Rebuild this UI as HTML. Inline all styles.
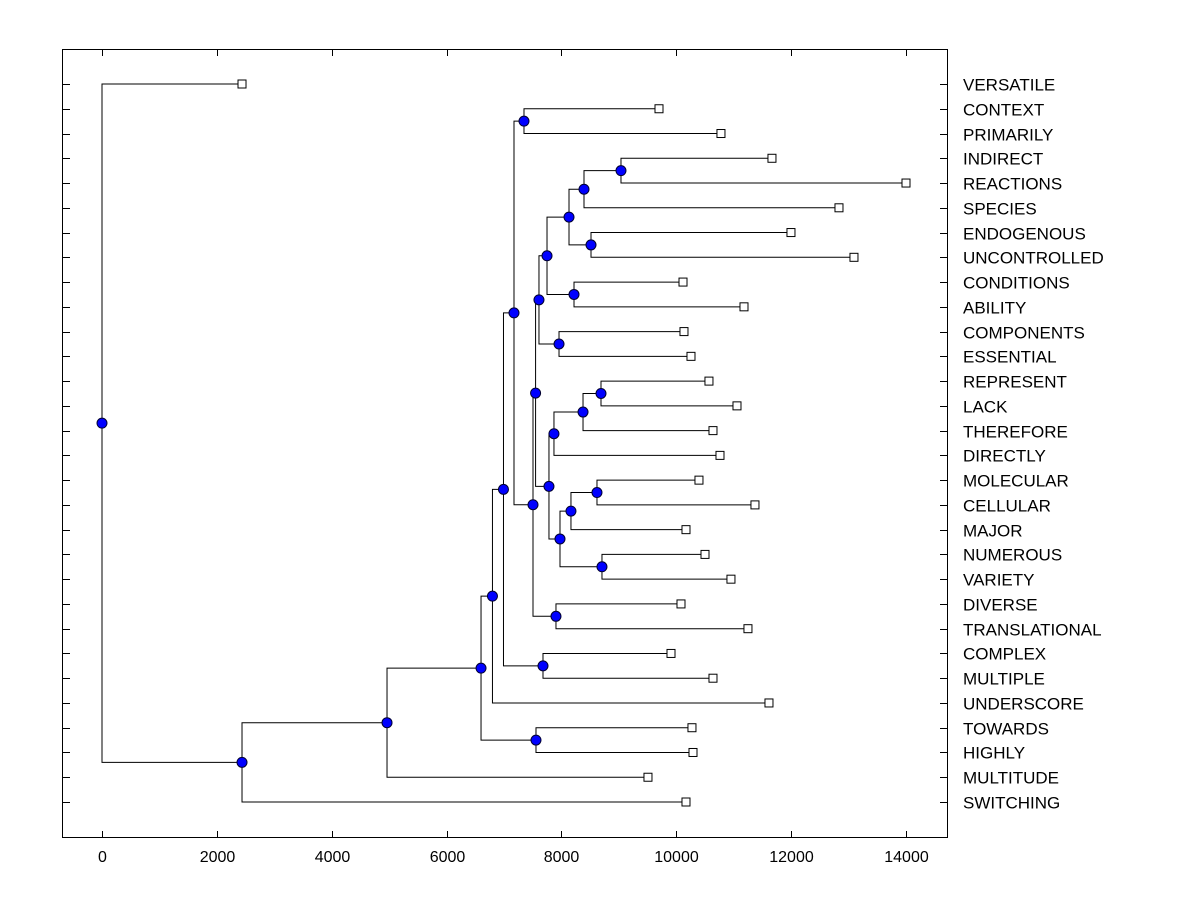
<!DOCTYPE html>
<html><head><meta charset="utf-8"><style>
html,body{margin:0;padding:0;background:#fff;}
svg{display:block;font-family:"Liberation Sans",Arial,sans-serif;}
</style></head><body>
<svg id="chart" width="1200" height="900" viewBox="0 0 1200 900">
<rect x="62.5" y="49.5" width="885" height="788" fill="#fff" stroke="#000" stroke-width="1"/>
<g id="links"></g>
<g id="ticks"></g>
<g id="marks"></g>
</svg>
<script>
const leafNames = ["VERSATILE","CONTEXT","PRIMARILY","INDIRECT","REACTIONS","SPECIES","ENDOGENOUS","UNCONTROLLED","CONDITIONS","ABILITY","COMPONENTS","ESSENTIAL","REPRESENT","LACK","THEREFORE","DIRECTLY","MOLECULAR","CELLULAR","MAJOR","NUMEROUS","VARIETY","DIVERSE","TRANSLATIONAL","COMPLEX","MULTIPLE","UNDERSCORE","TOWARDS","HIGHLY","MULTITUDE","SWITCHING"];
const leafValues = [2438,9699,10778,11666,14000,12833,11997,13094,10117,11179,10134,10256,10569,11057,10639,10761,10395,11370,10169,10500,10952,10082,11248,9908,10639,11614,10273,10291,9507,10169];
// internal nodes: [name, value, childA, childB]; leaf children as "L<index>"
const nodeNames = ["cp","ir","irs","eu","A","ca","B","ce","C","rl","rlt","dir","mc","mcm","nv","E","F","H","dt","G","D","cm","I","J","th","K","L","M","root"];
const nodeValues = [7348,9037,8393,8515,8132,8219,7749,7958,7609,8689,8376,7870,8619,8166,8706,7975,7783,7550,7905,7505,7174,7679,6991,6799,7557,6600,4963,2438,0];
const nodeChildren = [["L1","L2"],["L3","L4"],["ir","L5"],["L6","L7"],["irs","eu"],["L8","L9"],["A","ca"],["L10","L11"],["B","ce"],["L12","L13"],["rl","L14"],["rlt","L15"],["L16","L17"],["mc","L18"],["L19","L20"],["mcm","nv"],["dir","E"],["C","F"],["L21","L22"],["H","dt"],["cp","G"],["L23","L24"],["D","cm"],["I","L25"],["L26","L27"],["J","th"],["K","L28"],["L","L29"],["L0","M"]];
const xTicks = [0,2000,4000,6000,8000,10000,12000,14000];

const NS="http://www.w3.org/2000/svg";
const X0=102, XS=804/14000, Y0=84, YS=(802-84)/29;
const sx=v=>X0+v*XS, sy=i=>Y0+i*YS;
function mk(tag,attrs,parent){const e=document.createElementNS(NS,tag);for(const k in attrs)e.setAttribute(k,attrs[k]);parent.appendChild(e);return e;}
const links=document.getElementById('links'), ticks=document.getElementById('ticks'), marks=document.getElementById('marks');
const pos={};
leafNames.forEach((n,i)=>{pos["L"+i]={x:sx(leafValues[i]),y:sy(i)};});
nodeNames.forEach((n,i)=>{
  const a=pos[nodeChildren[i][0]], b=pos[nodeChildren[i][1]];
  const x=sx(nodeValues[i]), y=(a.y+b.y)/2;
  pos[n]={x,y};
  const p=mk('path',{d:`M${a.x},${a.y}H${x}V${b.y}H${b.x}`,fill:'none',stroke:'#000','stroke-width':1},links);
  
  
});
xTicks.forEach(v=>{
  const x=Math.round(sx(v))+0.5;
  const t1=mk('line',{x1:x,x2:x,y1:838,y2:831,stroke:'#000'},ticks);
  
  
  const t2=mk('line',{x1:x,x2:x,y1:49,y2:56,stroke:'#000'},ticks);
  
  
  const tl=mk('text',{x:x,y:862,'text-anchor':'middle','font-size':16,fill:'#000'},ticks);
  tl.textContent=v;
  
  
});
leafNames.forEach((n,i)=>{
  const y=Math.round(sy(i))+0.5;
  const a=mk('line',{x1:62,x2:70,y1:y,y2:y,stroke:'#000'},ticks);
  
  
  const b=mk('line',{x1:940,x2:948,y1:y,y2:y,stroke:'#000'},ticks);
  
  
  const t=mk('text',{x:963,y:y+6,'font-size':17,fill:'#000'},ticks);
  t.textContent=n;
  
  
  const p=pos["L"+i];
  const r=mk('rect',{x:p.x-4,y:p.y-4,width:8,height:8,fill:'#fff',stroke:'#000'},marks);
  
  
});
nodeNames.forEach(n=>{
  const p=pos[n];
  const c=mk('circle',{cx:p.x,cy:p.y,r:5,fill:'#0000ff',stroke:'#000030','stroke-width':1},marks);
  
  
});
</script>
</body></html>
